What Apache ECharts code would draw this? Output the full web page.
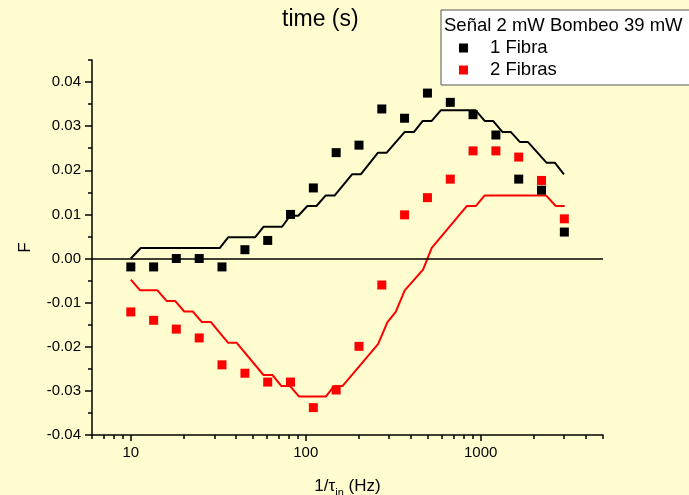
<!DOCTYPE html>
<html>
<head>
<meta charset="utf-8">
<script src="https://cdn.jsdelivr.net/npm/echarts@6/dist/echarts.min.js"></script>
<style>
html, body { margin: 0; padding: 0; background: #FFFDD0; }
#chart { width: 689px; height: 495px; }
</style>
</head>
<body>
<div id="chart"></div>
<script>
// frecuencias de los puntos medidos (Hz)
var freqPts = [10, 13.5, 18.2, 24.6, 33.2, 44.9, 60.6, 81.8, 110.5, 149.2, 201.5, 272, 367, 496, 670, 904, 1221, 1649, 2226, 3006];
// medidas
var fibra1 = [-0.0019, -0.0019, 0.0000, 0.0000, -0.0019, 0.0020, 0.0041, 0.0100, 0.0160, 0.0240, 0.0257, 0.0339, 0.0318, 0.0375, 0.0354, 0.0326, 0.0280, 0.0180, 0.0155, 0.0060];
var fibra2 = [-0.0121, -0.0140, -0.0160, -0.0180, -0.0241, -0.0260, -0.0280, -0.0280, -0.0338, -0.0298, -0.0199, -0.0060, 0.0099, 0.0138, 0.0180, 0.0244, 0.0244, 0.0230, 0.0177, 0.0090];

// curvas (simulacion)
var sim1X = [10, 11.4, 32.3, 36.0, 51.3, 57.3, 73.2, 81.4, 90.6, 102.2, 115.1, 130.1, 146.4, 183.9, 206.2, 258.9, 290.3, 367.9, 415.9, 466.3, 524.8, 590.8, 936.3, 1054, 1176, 1330, 1484, 1677, 1864, 2383, 2658, 2992];
var sim1Y = [0, 0.0024, 0.0024, 0.0048, 0.0048, 0.0072, 0.0072, 0.0097, 0.0097, 0.0119, 0.0119, 0.0143, 0.0143, 0.0191, 0.0191, 0.024, 0.024, 0.0287, 0.0287, 0.0312, 0.0312, 0.0336, 0.0336, 0.0312, 0.0312, 0.0287, 0.0287, 0.0264, 0.0264, 0.0217, 0.0217, 0.0191];
var sim2X = [10, 11.3, 14.2, 16.0, 17.9, 20.2, 22.6, 25.5, 28.7, 36.0, 40.3, 57.3, 64.5, 72.6, 81.4, 91.6, 130.1, 145.1, 162.1, 258.9, 293.0, 326.8, 367.9, 468.1, 524.8, 831.8, 936.3, 1054, 2361, 2683, 3020];
var sim2Y = [-0.0048, -0.0072, -0.0072, -0.0096, -0.0096, -0.012, -0.012, -0.0144, -0.0144, -0.0191, -0.0191, -0.0264, -0.0264, -0.0289, -0.0289, -0.0313, -0.0313, -0.0289, -0.0289, -0.0194, -0.0144, -0.0121, -0.0072, -0.0025, 0.0024, 0.0119, 0.0119, 0.0143, 0.0143, 0.0119, 0.0119];

// ticks
var xMajor = [10, 100, 1000];
var xMinor = [6, 7, 8, 9, 20, 30, 40, 50, 60, 70, 80, 90, 200, 300, 400, 500, 600, 700, 800, 900, 2000, 3000, 4000, 5000];
var yMajor = [-0.04, -0.03, -0.02, -0.01, 0, 0.01, 0.02, 0.03, 0.04];
var yMinor = [-0.035, -0.025, -0.015, -0.005, 0.005, 0.015, 0.025, 0.035, 0.045];

function pairs(xs, ys) {
  return xs.map(function (x, i) { return [x, ys[i]]; });
}

var font = "'Liberation Sans', Arial, sans-serif";

var option = {
  backgroundColor: '#FFFDD0',
  animation: false,
  textStyle: { fontFamily: font },
  title: {
    text: 'time (s)',
    left: 277,
    top: 3,
    textStyle: { fontSize: 23, fontWeight: 'normal', color: '#000', fontFamily: font }
  },
  legend: {
    data: ['1 Fibra', '2 Fibras'],
    orient: 'vertical',
    left: 441,
    top: 10,
    padding: [27, 200, 4, 18],
    itemGap: 0,
    itemWidth: 9,
    itemHeight: 9,
    icon: 'rect',
    backgroundColor: '#fff',
    borderColor: '#555',
    borderWidth: 1,
    textStyle: { fontSize: 18.5, lineHeight: 22, color: '#000', padding: [0, 0, 0, 17], fontFamily: font }
  },
  graphic: [{
    type: 'text',
    left: 444,
    top: 16,
    z: 100,
    style: { text: 'Señal 2 mW Bombeo 39 mW', fontSize: 18.5, fill: '#000', fontFamily: font }
  }],
  grid: { left: 92, right: 86, top: 60, bottom: 60, outerBoundsMode: 'none' },
  xAxis: [{
    type: 'log',
    min: 6,
    max: 5000,
    name: '1/τ{sub|in} (Hz)',
    nameLocation: 'middle',
    nameGap: 40,
    nameTextStyle: {
      fontSize: 17, color: '#000', fontFamily: font,
      rich: { sub: { fontSize: 11, padding: [12, 0, 0, 0], color: '#000', fontFamily: font } }
    },
    axisLine: { onZero: false, lineStyle: { color: '#000', width: 1.5 } },
    axisTick: { inside: false, length: 6, customValues: xMajor, lineStyle: { color: '#000', width: 1.5 } },
    axisLabel: {
      customValues: xMajor, fontSize: 15, color: '#000', margin: 10,
      formatter: function (v) { return String(Math.round(v)); }
    },
    splitLine: { show: false }
  }, {
    type: 'log',
    min: 6,
    max: 5000,
    position: 'bottom',
    axisLine: { show: false, onZero: false },
    axisTick: { inside: false, length: 4, customValues: xMinor, lineStyle: { color: '#000', width: 1.5 } },
    axisLabel: { show: false },
    splitLine: { show: false }
  }],
  yAxis: [{
    type: 'value',
    min: -0.04,
    max: 0.045,
    interval: 0.01,
    name: 'F',
    nameLocation: 'middle',
    nameGap: 58,
    nameTextStyle: { fontSize: 17, color: '#000', fontFamily: font },
    axisLine: { onZero: false, lineStyle: { color: '#000', width: 1.5 } },
    axisTick: { inside: false, length: 7, customValues: yMajor, lineStyle: { color: '#000', width: 1.5 } },
    axisLabel: {
      customValues: yMajor, fontSize: 15, color: '#000', margin: 11,
      formatter: function (v) { return v.toFixed(2); }
    },
    splitLine: { show: false }
  }, {
    type: 'value',
    min: -0.04,
    max: 0.045,
    position: 'left',
    axisLine: { show: false, onZero: false },
    axisTick: { inside: false, length: 4, customValues: yMinor, lineStyle: { color: '#000', width: 1.5 } },
    axisLabel: { show: false },
    splitLine: { show: false }
  }],
  series: [{
    name: 'sim1',
    type: 'line',
    data: pairs(sim1X, sim1Y),
    showSymbol: false,
    lineStyle: { color: '#000', width: 2 },
    itemStyle: { color: '#000' },
    markLine: {
      silent: true,
      symbol: 'none',
      label: { show: false },
      lineStyle: { color: '#000', width: 1.5, type: 'solid' },
      data: [{ yAxis: 0 }]
    }
  }, {
    name: 'sim2',
    type: 'line',
    data: pairs(sim2X, sim2Y),
    showSymbol: false,
    lineStyle: { color: '#ff0000', width: 2 },
    itemStyle: { color: '#ff0000' }
  }, {
    name: '1 Fibra',
    type: 'scatter',
    symbol: 'rect',
    symbolSize: 9,
    data: pairs(freqPts, fibra1),
    itemStyle: { color: '#000', opacity: 1 },
    z: 5
  }, {
    name: '2 Fibras',
    type: 'scatter',
    symbol: 'rect',
    symbolSize: 9,
    data: pairs(freqPts, fibra2),
    itemStyle: { color: '#ff0000', opacity: 1 },
    z: 5
  }]
};

var myChart = echarts.init(document.getElementById('chart'));
myChart.setOption(option);
</script>
</body>
</html>
